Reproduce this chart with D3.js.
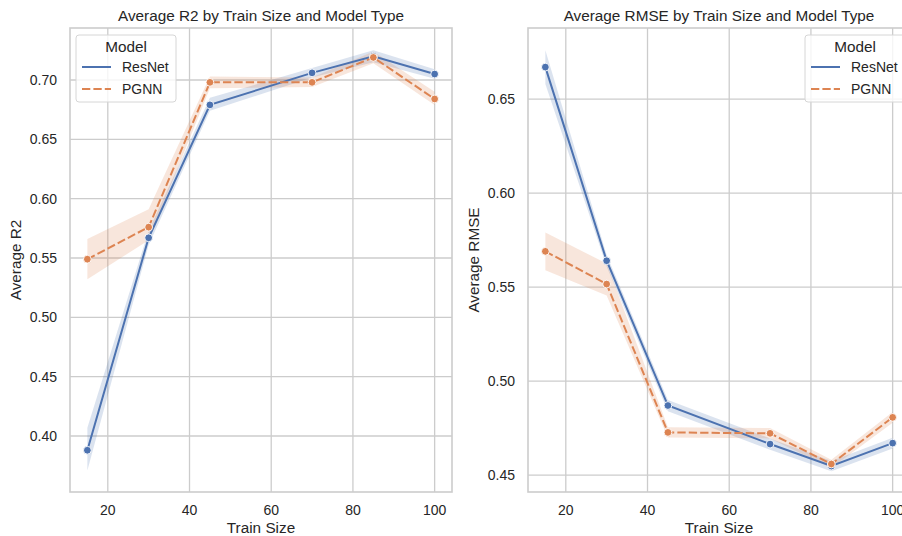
<!DOCTYPE html>
<html>
<head>
<meta charset="utf-8">
<script src="https://cdn.jsdelivr.net/npm/d3@7"></script>
<style>
  html, body { margin: 0; padding: 0; background: #fff; overflow: hidden; }
  svg { display: block; font-family: "Liberation Sans", Arial, sans-serif; }
</style>
</head>
<body>
<div id="chart"></div>
<script>
// train sizes (x)
var trainSizes = [15, 30, 45, 70, 85, 100];
var models = ["ResNet", "PGNN"];

// R2 panel
var r2ResNet     = [0.388, 0.567, 0.679, 0.706, 0.720, 0.705];
var r2ResNetLo   = [0.371, 0.561, 0.674, 0.702, 0.715, 0.701];
var r2ResNetHi   = [0.407, 0.573, 0.685, 0.710, 0.725, 0.709];
var r2Pgnn       = [0.549, 0.576, 0.698, 0.698, 0.719, 0.684];
var r2PgnnLo     = [0.532, 0.565, 0.693, 0.694, 0.714, 0.679];
var r2PgnnHi     = [0.566, 0.591, 0.703, 0.702, 0.724, 0.690];

// RMSE panel
var rmseResNet   = [0.667, 0.564, 0.487, 0.4665, 0.4548, 0.467];
var rmseResNetLo = [0.658, 0.561, 0.484, 0.4635, 0.4520, 0.4642];
var rmseResNetHi = [0.676, 0.567, 0.490, 0.4695, 0.4575, 0.4698];
var rmsePgnn     = [0.569, 0.5516, 0.4727, 0.4722, 0.4559, 0.4807];
var rmsePgnnLo   = [0.559, 0.5455, 0.4700, 0.4695, 0.4537, 0.4778];
var rmsePgnnHi   = [0.579, 0.5625, 0.4755, 0.4750, 0.4582, 0.4836];

var xTicks = [20, 40, 60, 80, 100];
var r2Ticks = [0.40, 0.45, 0.50, 0.55, 0.60, 0.65, 0.70];
var rmseTicks = [0.45, 0.50, 0.55, 0.60, 0.65];

// seaborn deep
var color = d3.scaleOrdinal().domain(models).range(["#4c72b0", "#dd8452"]);
var dash = { "ResNet": null, "PGNN": "8.3,3.1" };

var width = 902, height = 536;
var svg = d3.select("#chart").append("svg")
    .attr("width", width)
    .attr("height", height);

var plotTop = 28, plotBottom = 492;

function rows(mean, lo, hi) {
  return trainSizes.map(function(t, i) { return { x: t, y: mean[i], lo: lo[i], hi: hi[i] }; });
}

function panel(opts) {
  var x = d3.scaleLinear().domain([10.75, 104.25]).range([opts.left, opts.right]);
  var y = d3.scaleLinear().domain(opts.yDomain).range([plotBottom, plotTop]);
  var g = svg.append("g");

  // grid
  g.selectAll(".vgrid").data(xTicks).enter().append("line")
    .attr("x1", function(d) { return x(d); }).attr("x2", function(d) { return x(d); })
    .attr("y1", plotTop).attr("y2", plotBottom)
    .attr("stroke", "#cccccc").attr("stroke-width", 1.3);
  g.selectAll(".hgrid").data(opts.yTicks).enter().append("line")
    .attr("y1", function(d) { return y(d); }).attr("y2", function(d) { return y(d); })
    .attr("x1", opts.left).attr("x2", opts.right)
    .attr("stroke", "#cccccc").attr("stroke-width", 1.3);

  // bands first (below lines)
  var area = d3.area()
    .x(function(d) { return x(d.x); })
    .y0(function(d) { return y(d.lo); })
    .y1(function(d) { return y(d.hi); });
  opts.series.forEach(function(s) {
    g.append("path").datum(s.data)
      .attr("d", area)
      .attr("fill", color(s.name))
      .attr("fill-opacity", 0.2);
  });

  var line = d3.line()
    .x(function(d) { return x(d.x); })
    .y(function(d) { return y(d.y); });
  opts.series.forEach(function(s) {
    g.append("path").datum(s.data)
      .attr("d", line)
      .attr("fill", "none")
      .attr("stroke", color(s.name))
      .attr("stroke-width", 2)
      .attr("stroke-dasharray", dash[s.name]);
    g.selectAll(".pt-" + s.name).data(s.data).enter().append("circle")
      .attr("cx", function(d) { return x(d.x); })
      .attr("cy", function(d) { return y(d.y); })
      .attr("r", 3.9)
      .attr("fill", color(s.name))
      .attr("stroke", "#fff")
      .attr("stroke-width", 0.9);
  });

  // spines
  g.append("rect")
    .attr("x", opts.left).attr("y", plotTop)
    .attr("width", opts.right - opts.left).attr("height", plotBottom - plotTop)
    .attr("fill", "none").attr("stroke", "#cccccc").attr("stroke-width", 1.6);

  // tick labels
  g.selectAll(".xt").data(xTicks).enter().append("text")
    .attr("x", function(d) { return x(d); })
    .attr("y", 515)
    .attr("text-anchor", "middle")
    .attr("font-size", 14)
    .attr("fill", "#262626")
    .text(function(d) { return d; });
  g.selectAll(".yt").data(opts.yTicks).enter().append("text")
    .attr("x", opts.left - 13)
    .attr("y", function(d) { return y(d); })
    .attr("dy", "0.35em")
    .attr("text-anchor", "end")
    .attr("font-size", 14)
    .attr("fill", "#262626")
    .text(function(d) { return d3.format(".2f")(d); });

  // labels
  g.append("text")
    .attr("x", (opts.left + opts.right) / 2).attr("y", 21)
    .attr("text-anchor", "middle").attr("font-size", 15.3).attr("fill", "#262626")
    .text(opts.title);
  g.append("text")
    .attr("x", (opts.left + opts.right) / 2).attr("y", 533)
    .attr("text-anchor", "middle").attr("font-size", 15.3).attr("fill", "#262626")
    .text("Train Size");
  g.append("text")
    .attr("transform", "translate(" + opts.yLabelX + "," + ((plotTop + plotBottom) / 2) + ") rotate(-90)")
    .attr("text-anchor", "middle").attr("font-size", 15.3).attr("fill", "#262626")
    .text(opts.yLabel);

  // legend
  var lg = g.append("g").attr("transform", "translate(" + opts.legendX + "," + 35 + ")");
  lg.append("rect")
    .attr("width", 100).attr("height", 67).attr("rx", 3)
    .attr("fill", "#fff").attr("fill-opacity", 0.8)
    .attr("stroke", "#d6d6d6").attr("stroke-width", 1);
  lg.append("text")
    .attr("x", 50).attr("y", 17)
    .attr("text-anchor", "middle").attr("font-size", 15.3).attr("fill", "#262626")
    .text("Model");
  models.forEach(function(m, i) {
    var yy = 32 + i * 22;
    lg.append("line")
      .attr("x1", 6).attr("x2", 35).attr("y1", yy).attr("y2", yy)
      .attr("stroke", color(m)).attr("stroke-width", 2)
      .attr("stroke-dasharray", dash[m]);
    lg.append("text")
      .attr("x", 46).attr("y", yy).attr("dy", "0.35em")
      .attr("font-size", 14).attr("fill", "#262626")
      .text(m);
  });
}

panel({
  left: 70, right: 452,
  yDomain: [0.3528, 0.7438],
  yTicks: r2Ticks,
  title: "Average R2 by Train Size and Model Type",
  yLabel: "Average R2",
  yLabelX: 21,
  legendX: 76,
  series: [
    { name: "ResNet", data: rows(r2ResNet, r2ResNetLo, r2ResNetHi) },
    { name: "PGNN", data: rows(r2Pgnn, r2PgnnLo, r2PgnnHi) }
  ]
});

panel({
  left: 528, right: 910,
  yDomain: [0.441, 0.6878],
  yTicks: rmseTicks,
  title: "Average RMSE by Train Size and Model Type",
  yLabel: "Average RMSE",
  yLabelX: 479,
  legendX: 805,
  series: [
    { name: "ResNet", data: rows(rmseResNet, rmseResNetLo, rmseResNetHi) },
    { name: "PGNN", data: rows(rmsePgnn, rmsePgnnLo, rmsePgnnHi) }
  ]
});
</script>
</body>
</html>
